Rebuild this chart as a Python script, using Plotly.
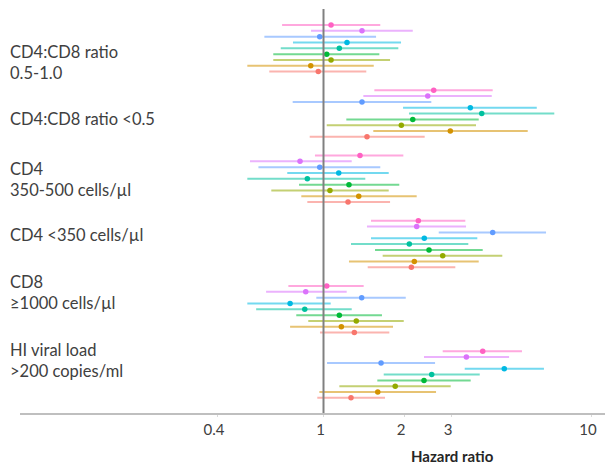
import plotly.graph_objects as go

# ---------------- data ----------------
group_labels = [
    "CD4:CD8 ratio<br>0.5-1.0",
    "CD4:CD8 ratio <0.5",
    "CD4<br>350-500 cells/µl",
    "CD4 <350 cells/µl",
    "CD8<br>≥1000 cells/µl",
    "HI viral load<br>>200 copies/ml",
]

series_names = ["S1", "S2", "S3", "S4", "S5", "S6", "S7", "S8", "S9"]  # top to bottom

pink_hr = [1.067, 2.582, 1.369, 2.262, 1.028, 3.937]
pink_lo = [0.700, 1.549, 0.929, 1.505, 0.739, 2.790]
pink_hi = [1.630, 4.290, 1.988, 3.389, 1.413, 5.520]

violet_hr = [1.393, 2.453, 0.817, 2.230, 0.858, 3.420]
violet_lo = [0.898, 1.409, 0.531, 1.454, 0.610, 2.375]
violet_hi = [2.156, 4.255, 1.275, 3.410, 1.221, 4.940]

blue_hr = [0.968, 1.393, 0.968, 4.290, 1.389, 1.641]
blue_lo = [0.601, 0.767, 0.571, 2.696, 0.940, 1.031]
blue_hi = [1.572, 2.529, 1.630, 6.790, 2.030, 2.612]

cyan_hr = [1.224, 3.539, 1.140, 2.381, 0.750, 4.740]
cyan_lo = [0.769, 1.983, 0.732, 1.505, 0.519, 3.372]
cyan_hi = [1.949, 6.270, 1.753, 3.758, 1.064, 6.670]

teal_hr = [1.146, 3.904, 0.870, 2.093, 0.851, 2.538]
teal_lo = [0.692, 2.087, 0.519, 1.267, 0.560, 1.679]
teal_hi = [1.904, 7.290, 1.433, 3.478, 1.275, 3.837]

green_hr = [1.028, 2.156, 1.245, 2.480, 1.146, 2.375]
green_lo = [0.649, 1.217, 0.810, 1.558, 0.791, 1.589]
green_hi = [1.617, 3.804, 1.920, 3.937, 1.654, 3.550]

olive_hr = [1.067, 1.954, 1.057, 2.790, 1.326, 1.854]
olive_lo = [0.649, 1.028, 0.638, 1.664, 0.877, 1.146]
olive_hi = [1.773, 3.716, 1.753, 4.660, 1.995, 2.989]

orange_hr = [0.896, 2.979, 1.354, 2.185, 1.166, 1.595]
orange_lo = [0.519, 1.535, 0.826, 1.245, 0.750, 0.965]
orange_hi = [1.541, 5.800, 2.230, 3.804, 1.819, 2.634]

red_hr = [0.956, 1.454, 1.235, 2.130, 1.304, 1.267]
red_lo = [0.627, 0.888, 0.870, 1.463, 0.970, 0.948]
red_hi = [1.445, 2.389, 1.773, 3.110, 1.762, 1.698]

tick_values = [0.4, 1, 2, 3, 10]
tick_labels = ["0.4", "1", "2", "3", "10"]
reference_hr = 1

# ---------------- styling ----------------
series = [
    (pink_hr, pink_lo, pink_hi, (255, 97, 195)),
    (violet_hr, violet_lo, violet_hi, (219, 114, 251)),
    (blue_hr, blue_lo, blue_hi, (97, 156, 255)),
    (cyan_hr, cyan_lo, cyan_hi, (0, 185, 227)),
    (teal_hr, teal_lo, teal_hi, (0, 193, 159)),
    (green_hr, green_lo, green_hi, (0, 186, 56)),
    (olive_hr, olive_lo, olive_hi, (147, 170, 0)),
    (orange_hr, orange_lo, orange_hi, (211, 146, 0)),
    (red_hr, red_lo, red_hi, (248, 118, 109)),
]
GROUP_STEP = 11.2
label_y_paper = [0.8676, 0.7265, 0.5781, 0.4403, 0.2989, 0.1297]
FONT = "Lato"

fig = go.Figure()
for si, (hr, lo, hi, rgb) in enumerate(series):
    ys = [g * GROUP_STEP + si for g in range(len(hr))]
    col = "rgb(%d,%d,%d)" % rgb
    fig.add_trace(go.Scatter(
        x=hr, y=ys, mode="markers", name=series_names[si],
        marker=dict(color=col, size=5.5),
        error_x=dict(type="data", symmetric=False,
                     array=[h - p for h, p in zip(hi, hr)],
                     arrayminus=[p - l for p, l in zip(hr, lo)],
                     color="rgba(%d,%d,%d,0.55)" % rgb, thickness=2, width=0),
        showlegend=False, hoverinfo="skip",
    ))

fig.add_shape(type="line", xref="x", yref="paper", x0=reference_hr, x1=reference_hr,
              y0=0, y1=1, line=dict(color="#808080", width=2), layer="above")

for lab, yp in zip(group_labels, label_y_paper):
    fig.add_annotation(text=lab, xref="paper", yref="paper", x=-0.02, y=yp,
                       xanchor="left", yanchor="middle", align="left", showarrow=False,
                       font=dict(family=FONT, size=16.5, color="#404040"))

fig.add_annotation(text="<b>Hazard ratio</b>", xref="paper", yref="paper",
                   x=0.7385, y=-0.107, xanchor="center", yanchor="middle", showarrow=False,
                   font=dict(family=FONT, size=15, color="#262626"))

fig.update_xaxes(type="log", range=[-1.1346, 1.0523], tickvals=tick_values, ticktext=tick_labels,
                 showgrid=False, zeroline=False, showline=True, linecolor="#bfbfbf", linewidth=1.5,
                 ticks="outside", ticklen=2, tickcolor="#d9d9d9",
                 tickfont=dict(family=FONT, size=15, color="#404040"), ticklabelshift=-3)
fig.update_yaxes(range=[66.6, -2.75], showgrid=False, zeroline=False, showticklabels=False,
                 showline=False)
fig.update_layout(width=606, height=465, margin=dict(l=20, r=1, t=9, b=52),
                  plot_bgcolor="white", paper_bgcolor="white")

fig.write_html("out.html", config={"displayModeBar": False},
               post_script="document.body.style.margin='0';")
